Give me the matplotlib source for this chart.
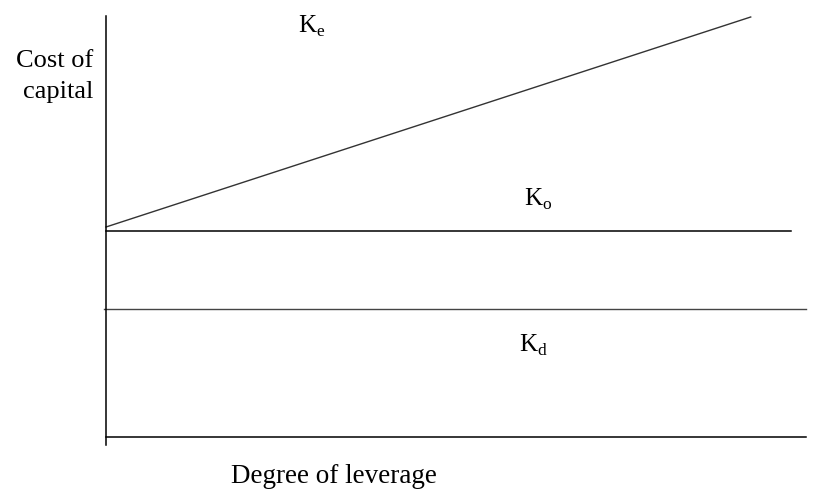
import matplotlib
matplotlib.use('Agg')
import matplotlib.pyplot as plt

plt.rcParams['font.family'] = ['Liberation Serif', 'DejaVu Serif']
plt.rcParams['mathtext.fontset'] = 'custom'
plt.rcParams['mathtext.rm'] = 'Liberation Serif'

# leverage (x) and cost (y) in arbitrary units
ke_x = [0.0, 9.21]
ke_y = [5.0, 10.0]
ko_x = [0.0, 9.79]
ko_y = [4.9, 4.9]
kd_x = [-0.03, 10.0]
kd_y = [3.05, 3.05]
xaxis_x = [0.0, 10.0]
yaxis_y = [-0.2, 10.02]

labels = ['K$_\\mathrm{e}$', 'K$_\\mathrm{o}$', 'K$_\\mathrm{d}$']
label_x = [2.74, 5.97, 5.9]
label_y = [9.62, 5.5, 2.03]

fig = plt.figure(figsize=(8.19, 4.9), dpi=100)
ax = fig.add_axes([106/819, 53/490, 700/819, 420/490])
ax.set_xlim(0, 10)
ax.set_ylim(0, 10)
ax.axis('off')

ax.plot(ke_x, ke_y, color='#333333', lw=1.0, clip_on=False)
ax.plot(ko_x, ko_y, color='black', lw=1.1, clip_on=False)
ax.plot(kd_x, kd_y, color='#444444', lw=1.0, clip_on=False)
ax.plot(xaxis_x, [0, 0], color='black', lw=1.1, clip_on=False)
ax.plot([0, 0], yaxis_y, color='black', lw=1.1, clip_on=False)

for lab, x, y in zip(labels, label_x, label_y):
    ax.text(x, y, lab, fontsize=18, ha='left', va='baseline', color='black')

fig.text(93/819, 1 - 98/490, 'Cost of\ncapital', fontsize=19, ha='right',
         va='baseline', multialignment='right', linespacing=1.55)
fig.text(334/819, 1 - 483/490, 'Degree of leverage', fontsize=19.5,
         ha='center', va='baseline')

fig.savefig('out.png', dpi=100)
